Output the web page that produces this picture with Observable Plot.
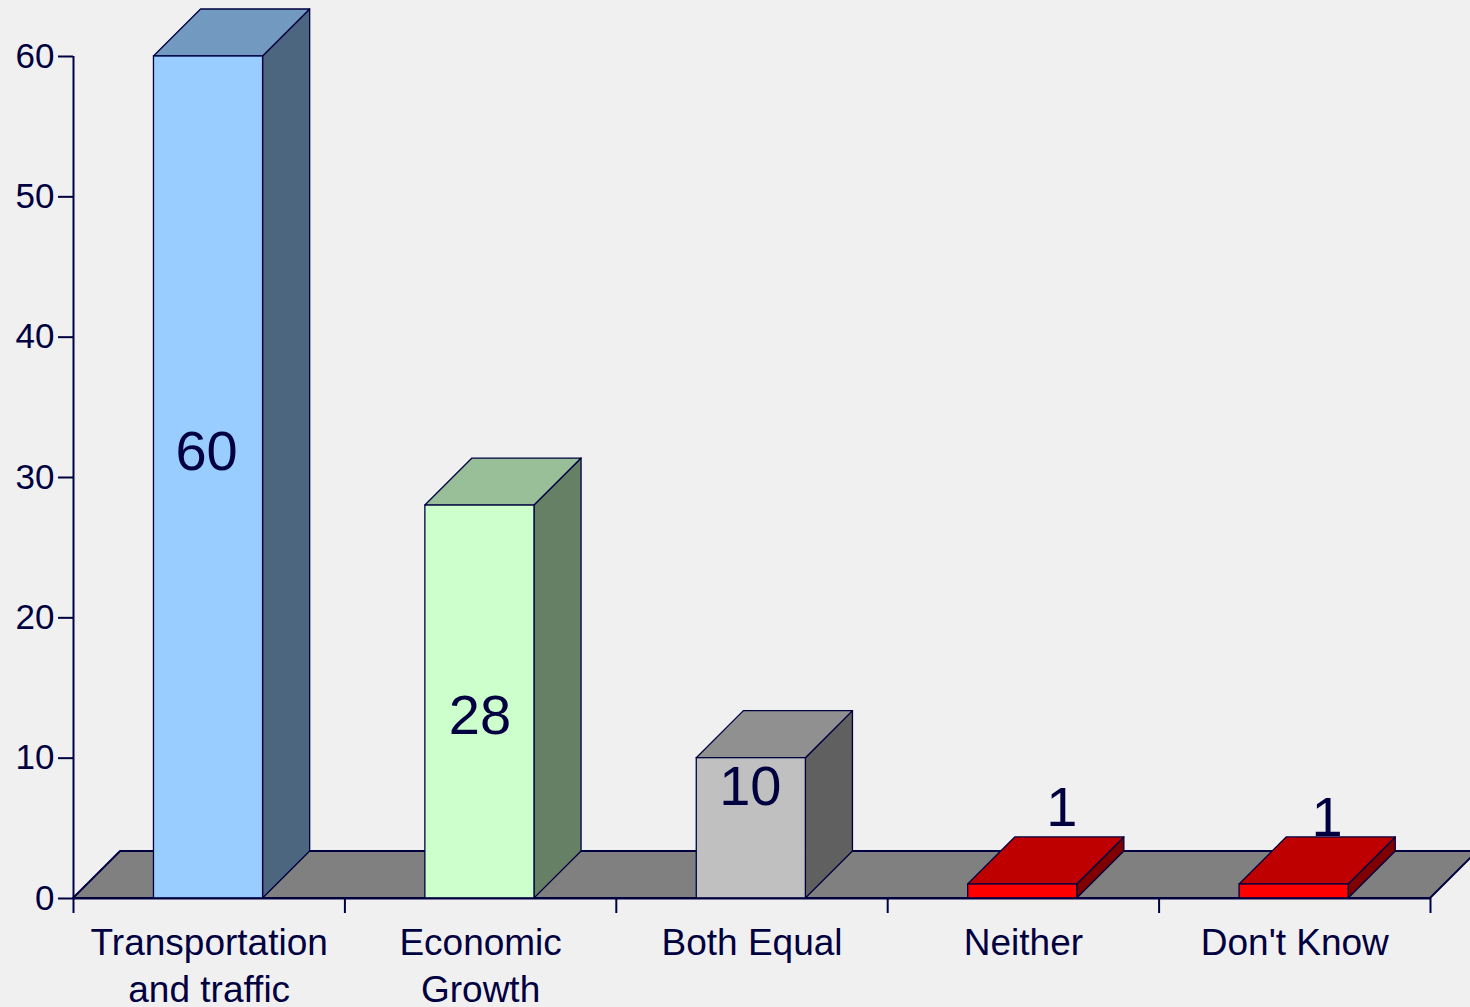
<!DOCTYPE html>
<html>
<head>
<meta charset="utf-8">
<script src="https://cdn.jsdelivr.net/npm/d3@7"></script>
<script src="https://cdn.jsdelivr.net/npm/@observablehq/plot@0.6"></script>
<style>
html,body{margin:0;padding:0;background:#f0f0f0;overflow:hidden}
svg{display:block}
</style>
</head>
<body>
<div id="chart"></div>
<script>
const categories = ["Transportation\nand traffic", "Economic\nGrowth", "Both Equal", "Neither", "Don't Know"];
const values = [60, 28, 10, 1, 1];
const frontColors = ["#99ccff", "#ccffcc", "#c0c0c0", "#ff0000", "#ff0000"];
const topColors = ["#7299bf", "#99bf99", "#909090", "#bf0000", "#bf0000"];
const sideColors = ["#4d6680", "#668066", "#606060", "#800000", "#800000"];
const yTicks = [0, 10, 20, 30, 40, 50, 60];
const xTicks = [0, 1, 2, 3, 4, 5];

const ink = "#000040";
const floorColor = "#808080";
const depthX = 0.1735;   // oblique depth, in category widths
const depthY = 3.35;     // oblique depth, in value units
const barStart = 0.2965;
const barWidth = 0.402;

const bars = categories.map((category, i) => ({
  category, i, value: values[i],
  x0: i + barStart, x1: i + barStart + barWidth,
  front: frontColors[i], top: topColors[i], side: sideColors[i]
}));

const topFaces = bars.flatMap(b => [
  {id: b.i, fill: b.top, x1: b.x0, x2: b.x1, y: b.value},
  {id: b.i, fill: b.top, x1: b.x0 + depthX, x2: b.x1 + depthX, y: b.value + depthY}
]);
const sideFaces = bars.flatMap(b => [
  {id: b.i, fill: b.side, x: b.x1, y1: 0, y2: b.value},
  {id: b.i, fill: b.side, x: b.x1 + depthX, y1: depthY, y2: b.value + depthY}
]);
const floor = [
  {x1: 0, x2: 5, y: 0},
  {x1: depthX, x2: 5 + depthX, y: depthY}
];

// Data-label offsets from the middle of each bar's front face, as placed in the original.
const labelOffsets = [
  {dx: -2, dy: -25}, {dx: 0, dy: 14}, {dx: -1, dy: -41}, {dx: 39, dy: -83}, {dx: 33, dy: -73}
];

const chart = Plot.plot({
  width: 1470,
  height: 1007,
  marginLeft: 73, marginRight: 40, marginTop: 56, marginBottom: 109,
  style: {background: "#f0f0f0", fontFamily: "'Liberation Sans', Arial, sans-serif"},
  x: {domain: [0, 5], range: [73, 1430], axis: null},
  y: {domain: [0, 60], range: [898, 56], axis: null},
  color: {type: "identity"},
  marks: [
    Plot.area(floor, {x1: "x1", x2: "x2", y1: "y", y2: "y", fill: floorColor, stroke: ink, strokeWidth: 2}),
    Plot.ruleX([0], {y1: 0, y2: 60, stroke: ink, strokeWidth: 2}),
    ...bars.flatMap(b => [
      Plot.area(sideFaces.filter(d => d.id === b.i), {x1: "x", x2: "x", y1: "y1", y2: "y2", fill: "fill", stroke: ink, strokeWidth: 1.3}),
      Plot.area(topFaces.filter(d => d.id === b.i), {x1: "x1", x2: "x2", y1: "y", y2: "y", fill: "fill", stroke: ink, strokeWidth: 1.3}),
      Plot.rect([b], {x1: "x0", x2: "x1", y1: 0, y2: "value", fill: "front", stroke: ink, strokeWidth: 1.3})
    ]),
    Plot.ruleY([0], {x1: 0, x2: 5, stroke: ink, strokeWidth: 2}),
    Plot.axisY({ticks: yTicks, anchor: "left", tickSize: 15, tickPadding: 4, fontSize: 35, color: ink, strokeWidth: 2, label: null}),
    Plot.axisX({ticks: xTicks, anchor: "bottom", tickSize: 15, tickFormat: () => "", color: ink, strokeWidth: 2, label: null}),
    Plot.text(categories, {x: (d, i) => i + 0.5, y: 0, text: d => d, dx: 0, dy: 23, lineAnchor: "top", lineHeight: 1.27, fontSize: 37, fill: ink}),
    ...bars.map((b, i) => Plot.text([b], {
      x: d => d.x0 + barWidth / 2, y: d => d.value / 2, text: d => String(d.value),
      dx: labelOffsets[i].dx, dy: labelOffsets[i].dy, fontSize: 56, fill: ink
    }))
  ]
});
document.getElementById("chart").append(chart);
</script>
</body>
</html>
